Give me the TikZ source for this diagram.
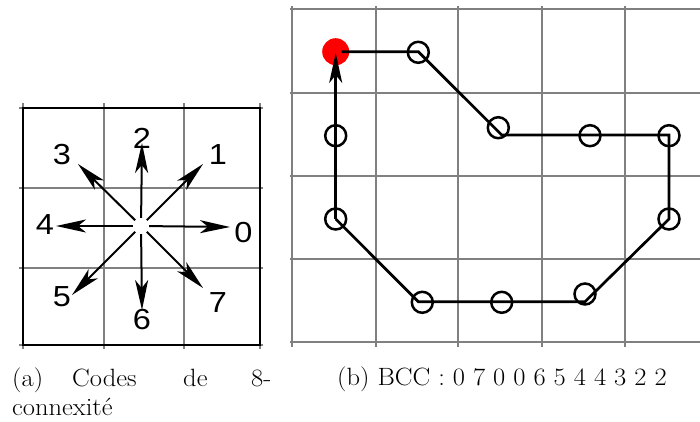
\documentclass[tikz,border=0pt]{standalone}
\usepackage{fontspec}
\newfontfamily\helv{Liberation Sans}
\usetikzlibrary{arrows.meta}
\begin{document}
\begin{tikzpicture}[x=1pt,y=-1pt,
  gridline/.style={draw=black!50, line width=1.1pt},
  boxline/.style={draw=black, line width=1.8pt},
  dirarrow/.style={line width=2pt, -{Stealth[length=30pt,width=13pt,inset=8pt]}},
  code/.style={font=\helv\fontsize{29}{34}\selectfont, inner sep=0pt, xscale=1.12},
  pix/.style={circle, draw=black, line width=2.5pt, minimum size=21pt, inner sep=0pt},
  startpix/.style={circle, fill=red, minimum size=27pt, inner sep=0pt},
  chain/.style={line width=2.7pt},
  captext/.style={font=\fontsize{25}{30}\selectfont, inner sep=0pt, anchor=base west, xscale=1.06}
]
\useasboundingbox (0,0) rectangle (700,421);

% ---------- left panel: 8-connectivity codes ----------
\foreach \x in {23,104,184,260} \draw[gridline] (\x,103) -- (\x,349);
\foreach \y in {108,188,268,345} \draw[gridline] (19,\y) -- (263,\y);
\draw[boxline] (23,108) rectangle (260,345);

\node[circle, minimum size=16pt, inner sep=0pt] (o) at (141,226) {};
\coordinate (t0) at (230,227);
\coordinate (t1) at (203,164);
\coordinate (t2) at (142,143);
\coordinate (t3) at (78,164);
\coordinate (t4) at (56,226);
\coordinate (t5) at (72,295);
\coordinate (t6) at (142,310);
\coordinate (t7) at (203,288);
\foreach \i in {0,...,7} \draw[dirarrow] (o) -- (t\i);

\node[code] (l0) at (243.5,232.5) {0};
\node[code] (l1) at (218,155) {1};
\node[code] (l2) at (142,138) {2};
\node[code] (l3) at (62,155) {3};
\node[code] (l4) at (45,225) {4};
\node[code] (l5) at (62,297) {5};
\node[code] (l6) at (142,320) {6};
\node[code] (l7) at (218,303) {7};

% ---------- right panel: chain code ----------
\foreach \x in {292,376,458,542,625} \draw[gridline] (\x,6) -- (\x,347);
\foreach \y in {9,93,176,259,342} \draw[gridline] (290,\y) -- (700,\y);

\node[startpix] (c0) at (335.7,51.7) {};
\coordinate (s) at (341.7,51.7);
\coordinate (v1) at (418.3,51.7);
\coordinate (v2) at (501.7,135);
\coordinate (v3) at (669,135);
\coordinate (v4) at (669,219);
\coordinate (v5) at (585,301.7);
\coordinate (v6) at (418.3,301.7);
\coordinate (v7) at (335.7,219);
\coordinate (e) at (335.7,53);
\draw[chain] (s) -- (v1) -- (v2) -- (v3) -- (v4) -- (v5) -- (v6) -- (v7);
\draw[chain, -{Stealth[length=30pt,width=13pt,inset=8pt]}] (v7) -- (e);

\node[pix] (c1) at (418.3,52.3) {};
\node[pix] (c2) at (498.3,127.7) {};
\node[pix] (c3) at (590,135.7) {};
\node[pix] (c4) at (669,135.7) {};
\node[pix] (c5) at (669,219) {};
\node[pix] (c6) at (585,294) {};
\node[pix] (c7) at (501.7,302.3) {};
\node[pix] (c8) at (422.3,302.3) {};
\node[pix] (c9) at (335.7,219) {};
\node[pix] (c10) at (335.7,135.7) {};

% ---------- captions ----------
\node[captext] (a1) at (12,386) {(a)};
\node[captext] (a2) at (72,386) {Codes};
\node[captext] (a3) at (183,386) {de};
\node[captext] (a4) at (251,386) {8-};
\node[captext] (a5) at (12,415) {connexité};
\node[captext] (b1) at (337,385) {(b) BCC : 0 7 0 0 6 5 4 4 3 2 2};
\end{tikzpicture}
\end{document}
